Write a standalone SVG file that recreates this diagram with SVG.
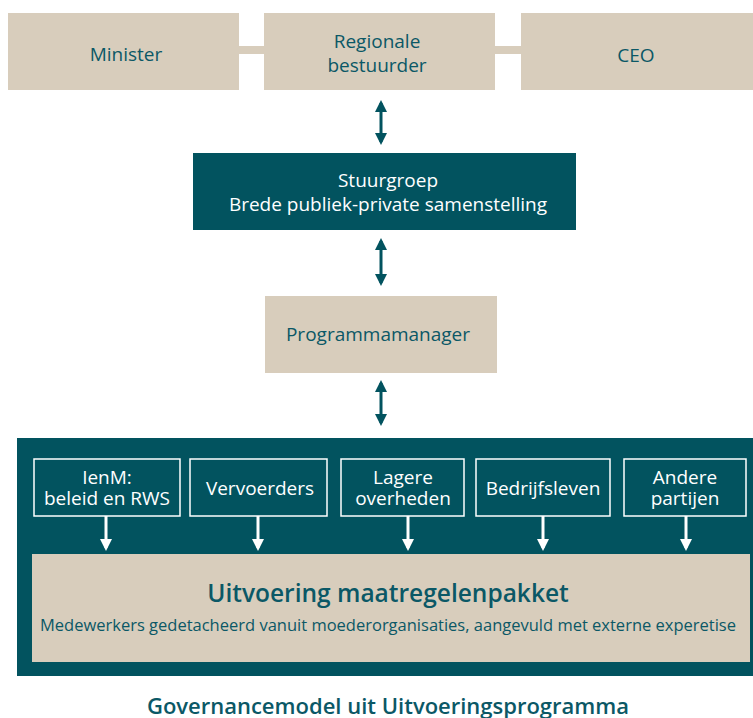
<svg xmlns="http://www.w3.org/2000/svg" width="753" height="718" viewBox="0 0 753 718">
  <style>
    .beige { fill: #d8cdbc; }
    .teal { fill: #02535f; }
    .card { fill: none; stroke: #ffffff; stroke-width: 1.5; }
    .t { font-family: "Open Sans", "Liberation Sans", sans-serif; font-size: 19px; text-anchor: middle; }
    .dk { fill: #0b5866; }
    .wt { fill: #ffffff; }
    .link2 { stroke: #02535f; stroke-width: 3; fill: none; }
    .link1 { stroke: #ffffff; stroke-width: 3; fill: none; }
  </style>
  <defs>
    <marker id="headTeal" viewBox="0 0 12 12" refX="9" refY="6" markerWidth="12" markerHeight="12" markerUnits="userSpaceOnUse" orient="auto-start-reverse">
      <path d="M0,0 L12,6 L0,12 z" fill="#02535f"/>
    </marker>
    <marker id="headWhite" viewBox="0 0 12 12" refX="9" refY="6" markerWidth="12" markerHeight="12" markerUnits="userSpaceOnUse" orient="auto">
      <path d="M0,0 L12,6 L0,12 z" fill="#ffffff"/>
    </marker>
  </defs>

  <rect width="753" height="718" fill="#ffffff"/>

  <!-- bars joining the top row -->
  <g id="top-links">
    <rect x="239" y="46" width="25" height="8" class="beige"/>
    <rect x="495" y="46" width="26" height="8" class="beige"/>
  </g>

  <g id="minister">
    <rect x="8" y="13" width="231" height="77" class="beige"/>
    <text x="126" y="61" class="t dk">Minister</text>
  </g>
  <g id="regionale-bestuurder">
    <rect x="264" y="13" width="231" height="77" class="beige"/>
    <text x="377" y="48" class="t dk">Regionale</text>
    <text x="377" y="72" class="t dk">bestuurder</text>
  </g>
  <g id="ceo">
    <rect x="521" y="13" width="232" height="77" class="beige"/>
    <text x="636" y="62" class="t dk">CEO</text>
  </g>

  <g id="stuurgroep">
    <rect x="193" y="153" width="383" height="77" class="teal"/>
    <text x="388" y="187" class="t wt">Stuurgroep</text>
    <text x="388" y="211" class="t wt">Brede publiek-private samenstelling</text>
  </g>

  <g id="programmamanager">
    <rect x="265" y="296" width="232" height="77" class="beige"/>
    <text x="378" y="341" class="t dk">Programmamanager</text>
  </g>

  <g id="programma">
    <rect x="17" y="438" width="736" height="238" class="teal"/>
  </g>

  <g id="ienm">
    <rect x="34" y="459" width="146" height="57" class="card"/>
    <text x="107" y="484" class="t wt">IenM:</text>
    <text x="107" y="505" class="t wt">beleid en RWS</text>
  </g>
  <g id="vervoerders">
    <rect x="190" y="459" width="137" height="57" class="card"/>
    <text x="260" y="495" class="t wt">Vervoerders</text>
  </g>
  <g id="lagere-overheden">
    <rect x="341" y="459" width="123" height="57" class="card"/>
    <text x="403" y="484" class="t wt">Lagere</text>
    <text x="403" y="505" class="t wt">overheden</text>
  </g>
  <g id="bedrijfsleven">
    <rect x="476" y="459" width="134" height="57" class="card"/>
    <text x="543" y="495" class="t wt">Bedrijfsleven</text>
  </g>
  <g id="andere-partijen">
    <rect x="624" y="459" width="122" height="57" class="card"/>
    <text x="685" y="484" class="t wt">Andere</text>
    <text x="685" y="505" class="t wt">partijen</text>
  </g>

  <g id="uitvoering">
    <rect x="32" y="554" width="718" height="108" class="beige"/>
    <text x="388" y="602" class="t dk" style="font-size:24.5px;font-weight:600">Uitvoering maatregelenpakket</text>
    <text x="388" y="631" class="t dk" style="font-size:16.5px">Medewerkers gedetacheerd vanuit moederorganisaties, aangevuld met externe experetise</text>
  </g>

  <g id="connectors">
    <path d="M381,103 V142" class="link2" marker-start="url(#headTeal)" marker-end="url(#headTeal)"/>
    <path d="M381,241 V283" class="link2" marker-start="url(#headTeal)" marker-end="url(#headTeal)"/>
    <path d="M381,383 V423" class="link2" marker-start="url(#headTeal)" marker-end="url(#headTeal)"/>
    <path d="M106,516 V548" class="link1" marker-end="url(#headWhite)"/>
    <path d="M258,516 V548" class="link1" marker-end="url(#headWhite)"/>
    <path d="M408,516 V548" class="link1" marker-end="url(#headWhite)"/>
    <path d="M543,516 V548" class="link1" marker-end="url(#headWhite)"/>
    <path d="M686,516 V548" class="link1" marker-end="url(#headWhite)"/>
  </g>

  <text x="388" y="714" class="t dk" style="font-size:22px;font-weight:600">Governancemodel uit Uitvoeringsprogramma</text>
</svg>
